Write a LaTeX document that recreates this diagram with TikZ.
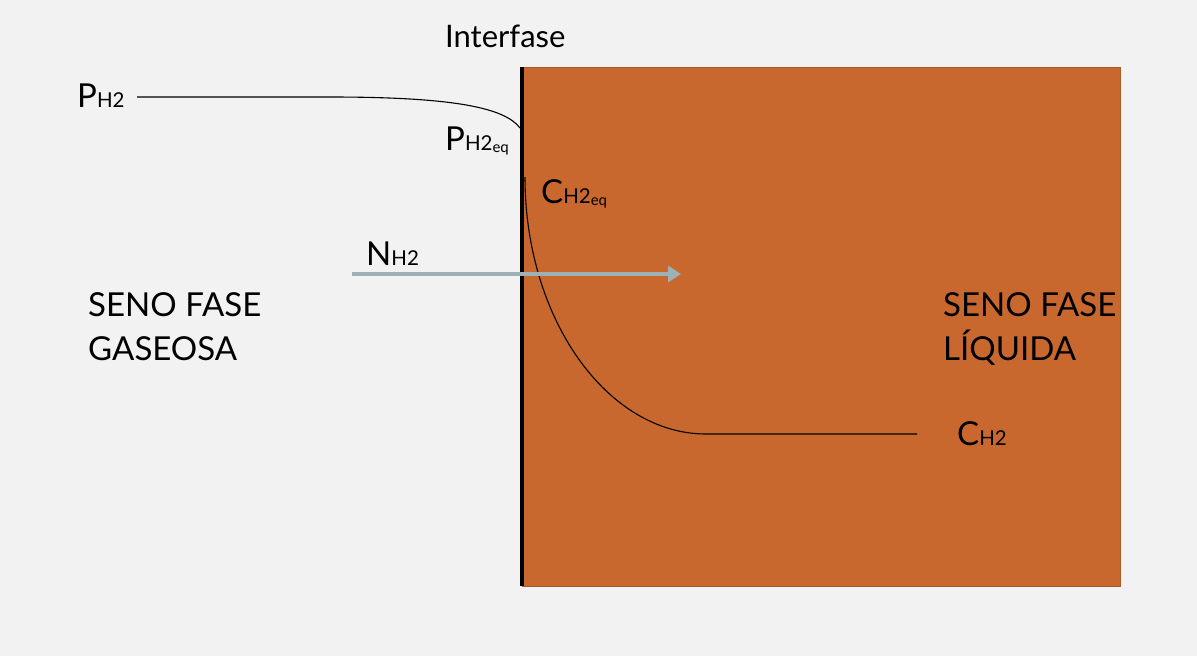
\documentclass[tikz,border=0pt]{standalone}
\usepackage{fontspec}
\setmainfont{Lato}
\usetikzlibrary{arrows.meta}
\definecolor{bgcol}{HTML}{F2F2F2}
\definecolor{liq}{HTML}{C8682F}
\definecolor{liqedge}{HTML}{A85A28}
\definecolor{flux}{HTML}{9DB1B6}
\newcommand\mainsz{\fontsize{31}{36}\selectfont}
\newcommand\varsz{\fontsize{33}{38}\selectfont}
\newcommand\senosz{\fontsize{33}{38}\selectfont}
\newcommand\subsz{\fontsize{20.5}{24}\selectfont}
\newcommand\subsubsz{\fontsize{15}{17}\selectfont}
\newcommand\spc[2]{#1{\subsz #2}}
\newcommand\speq[2]{#1{\subsz #2}{\subsubsz\raisebox{-2pt}{eq}}}
\begin{document}
\begin{tikzpicture}[x=1pt,y=-1pt,
  lbl/.style={anchor=base west, inner sep=0pt, text=black, font=\mainsz},
  varlbl/.style={lbl, font=\varsz},
  seno/.style={lbl, font=\senosz, align=left},
  thinline/.style={line width=1.1pt, black},
  fluxarrow/.style={flux, line width=4pt, -{Triangle[length=13pt,width=16pt]}}]
\fill[bgcol] (0,0) rectangle (1197,656);
\useasboundingbox (0,0) rectangle (1197,656);
% liquid phase
\draw[liqedge, fill=liq, line width=0.8pt] (522,67) rectangle (1120,586);
% interface
\coordinate (itop) at (522,67);
\coordinate (ibot) at (522,586);
\draw[line width=4pt, black] (itop) -- (ibot);
% labels
\node[lbl] (interfase) at (445,47) {Interfase};
\node[varlbl] (ph2) at (77,107) {\spc{P}{H2}};
\node[varlbl] (ph2eq) at (445,150) {\speq{P}{H2}};
\node[varlbl] (ch2eq) at (541,203) {\speq{C}{H2}};
\node[varlbl] (nh2) at (366,265) {\spc{N}{H2}};
\node[varlbl] (ch2) at (957,445) {\spc{C}{H2}};
\node[seno] (gas1) at (88,316) {SENO FASE};
\node[seno] (gas2) at (88,360) {GASEOSA};
\node[seno] (liq1) at (943,316) {SENO FASE};
\node[seno] (liq2) at (943,360) {LÍQUIDA};
% partial pressure profile
\coordinate (p0) at (137,97);
\coordinate (p1) at (330,97);
\coordinate (p2) at (520,128);
\draw[thinline] (p0) -- (p1) .. controls (455,97) and (505,108) .. (p2);
% concentration profile
\coordinate (c0) at (525,177);
\coordinate (c1) at (706,434);
\coordinate (c2) at (917,434);
\draw[thinline] (c0) .. controls (525,320) and (608,434) .. (c1) -- (c2);
% flux arrow
\coordinate (n0) at (352,274);
\coordinate (n1) at (681,274);
\draw[fluxarrow] (n0) -- (n1);
\end{tikzpicture}
\end{document}
